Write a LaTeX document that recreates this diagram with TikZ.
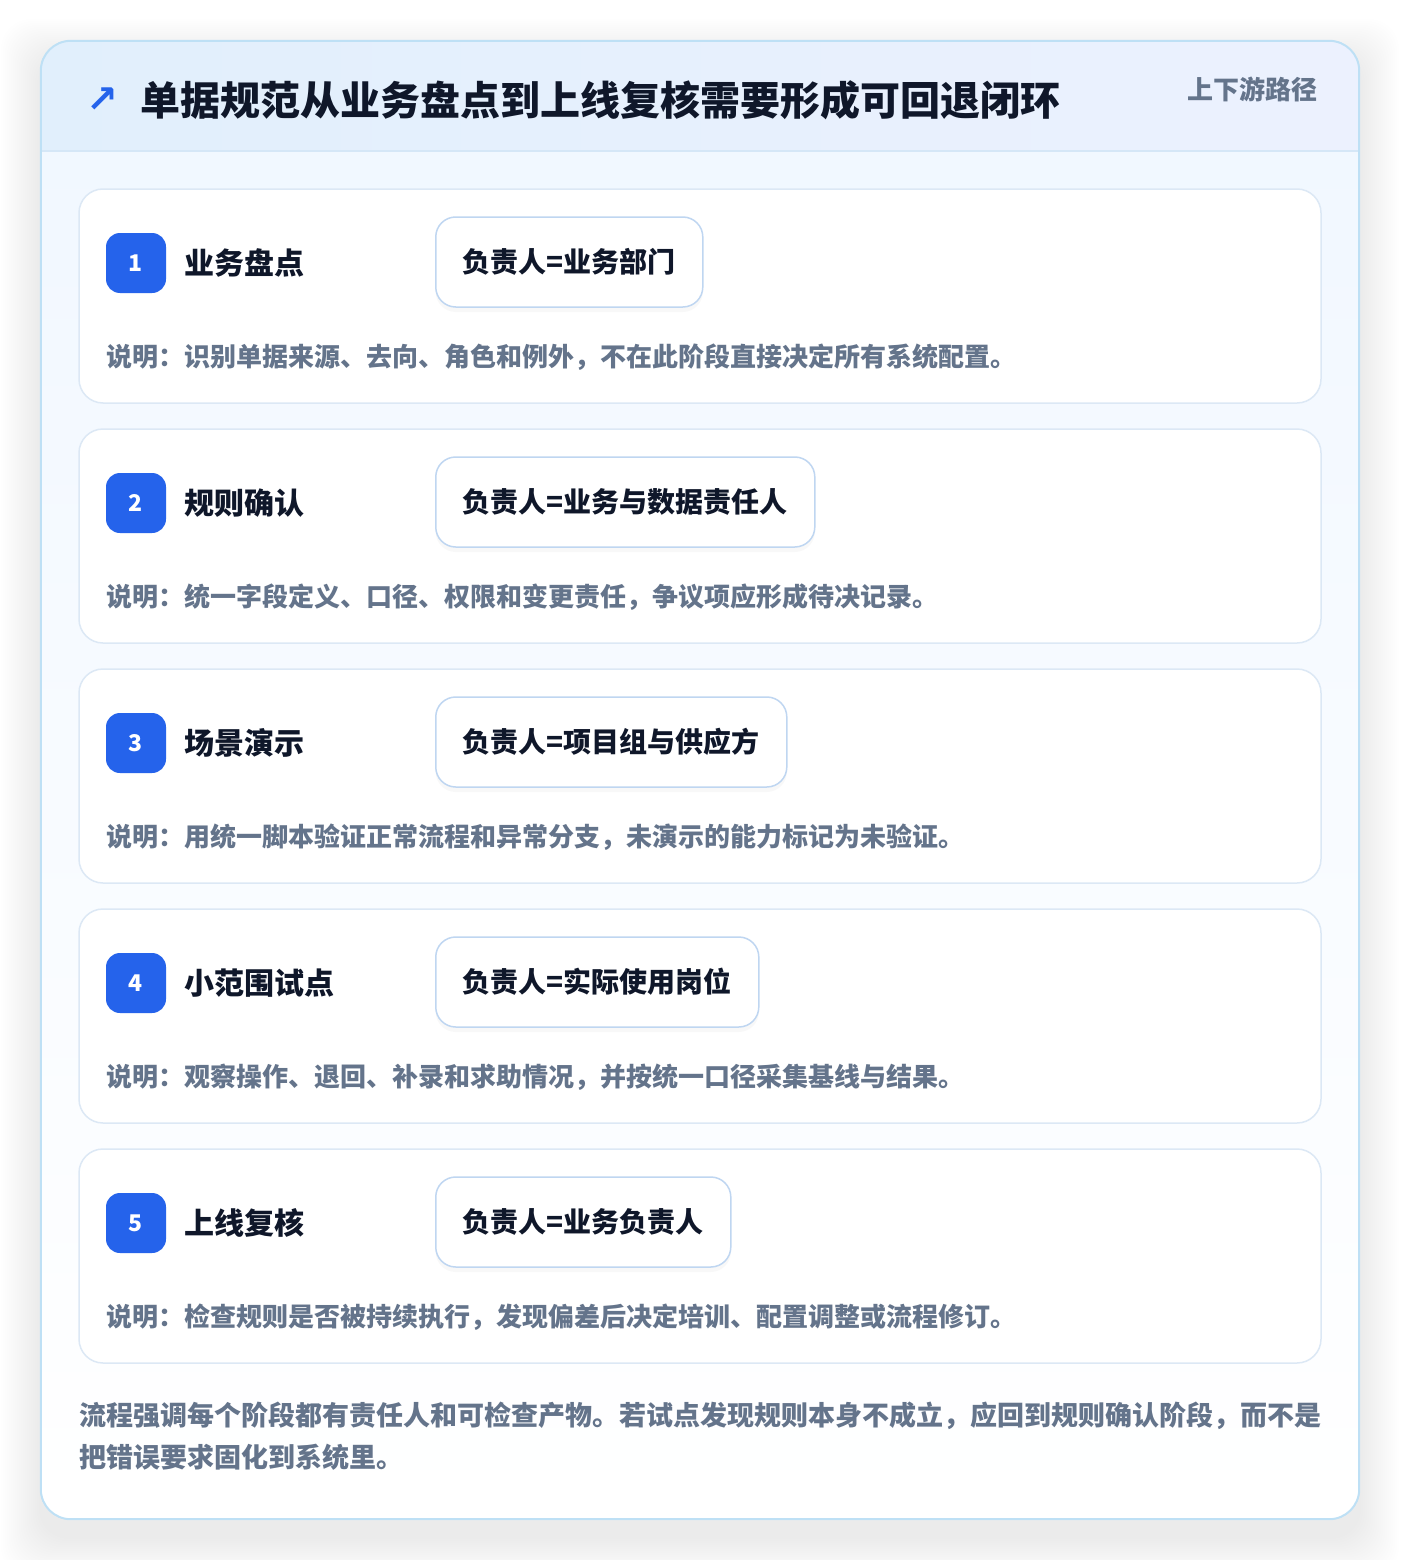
\documentclass[tikz,border=0pt]{standalone}
\usepackage{fontspec}
\setmainfont{Noto Sans CJK SC}
\newfontfamily\symfont{DejaVu Sans}
\usetikzlibrary{shadows}
\definecolor{badgeblue}{HTML}{2563EB}
\definecolor{cardline}{HTML}{DCE8F5}
\definecolor{ownerline}{HTML}{BFD6F1}
\definecolor{panelline}{HTML}{BEE0F5}
\definecolor{headA}{HTML}{E1EFFC}
\definecolor{headB}{HTML}{ECF1FE}
\definecolor{headline}{HTML}{D5E7F7}
\definecolor{paneltop}{HTML}{F0F7FF}
\definecolor{inkdark}{HTML}{0F172A}
\definecolor{inkgray}{HTML}{64748B}
\begin{document}
\begin{tikzpicture}
[x=1pt,y=-1pt,
  panelbox/.style={top color=paneltop,bottom color=white,rounded corners=30pt,
    minimum width=1318pt,minimum height=1478pt,inner sep=0pt},
  cardbox/.style={draw=cardline,line width=1.5pt,fill=white,rounded corners=24pt,
    minimum width=1242pt,minimum height=214pt,inner sep=0pt},
  badge/.style={fill=badgeblue,rounded corners=14pt,minimum size=60pt,inner sep=0pt,
    text=white,font=\fontsize{23}{26}\selectfont\bfseries},
  steptitle/.style={anchor=west,inner sep=0pt,text=inkdark,
    font=\fontsize{30}{36}\selectfont\bfseries},
  ownerbox/.style={anchor=west,draw=ownerline,line width=1.5pt,fill=white,
    rounded corners=20pt,minimum height=90pt,inner xsep=27pt,text=inkdark,
    font=\fontsize{28}{34}\selectfont\bfseries,
    drop shadow={opacity=0.05,shadow xshift=0pt,shadow yshift=-5pt}},
  notetext/.style={anchor=west,inner sep=0pt,text=inkgray,
    font=\fontsize{26}{30}\selectfont\bfseries}]
\useasboundingbox (0,0) rectangle (1400,1560);
%% soft shadow of the panel
\foreach \s in {1,...,20} {
  \fill[black,opacity=0.005,rounded corners=30pt]
    (41-\s*2,59-\s*2) rectangle (1359+\s*2,1537+\s*2);
}
%% panel and header band
\node (panel) [panelbox] at (700,780) {};
\begin{scope}
  \clip[rounded corners=30pt] (41,41) rectangle (1359,1519);
  \fill[left color=headA,right color=headB] (41,41) rectangle (1359,151);
  \draw[headline,line width=1.5pt] (41,151) -- (1359,151);
\end{scope}
\draw[panelline,line width=2pt,rounded corners=30pt]
  (panel.north west) rectangle (panel.south east);
\node (titlearrow) [text=badgeblue,inner sep=0pt,
  font=\fontsize{38}{40}\symfont\bfseries] at (102,100) {↗};
\node (title) [anchor=west,inner sep=0pt,text=inkdark,
  font=\fontsize{40}{46}\selectfont\bfseries] at (140,100)
  {单据规范从业务盘点到上线复核需要形成可回退闭环};
\node (tag) [anchor=east,inner sep=0pt,text=inkgray,
  font=\fontsize{26}{30}\selectfont\bfseries] at (1318,89) {上下游路径};
%% step cards
\foreach \n/\name/\owner/\note in {
  1/业务盘点/负责人=业务部门/说明：识别单据来源、去向、角色和例外，不在此阶段直接决定所有系统配置。,
  2/规则确认/负责人=业务与数据责任人/说明：统一字段定义、口径、权限和变更责任，争议项应形成待决记录。,
  3/场景演示/负责人=项目组与供应方/说明：用统一脚本验证正常流程和异常分支，未演示的能力标记为未验证。,
  4/小范围试点/负责人=实际使用岗位/说明：观察操作、退回、补录和求助情况，并按统一口径采集基线与结果。,
  5/上线复核/负责人=业务负责人/说明：检查规则是否被持续执行，发现偏差后决定培训、配置调整或流程修订。} {
  \pgfmathsetmacro\cardtop{189+240*(\n-1)}
  \node (card\n) [cardbox] at (700,\cardtop+107) {};
  \node (badge\n) [badge] at (136,\cardtop+74) {\n};
  \node (title\n) [steptitle] at (184,\cardtop+74) {\name};
  \node (owner\n) [ownerbox] at (435,\cardtop+73) {\owner};
  \node (note\n) [notetext] at (106,\cardtop+168) {\note};
}
%% closing remark
\node (summary) [anchor=west,align=left,inner sep=0pt,text=inkgray,
  font=\fontsize{27}{42}\selectfont\bfseries] at (79,1436)
  {流程强调每个阶段都有责任人和可检查产物。若试点发现规则本身不成立，应回到规则确认阶段，而不是\\
   把错误要求固化到系统里。};
\end{tikzpicture}
\end{document}
